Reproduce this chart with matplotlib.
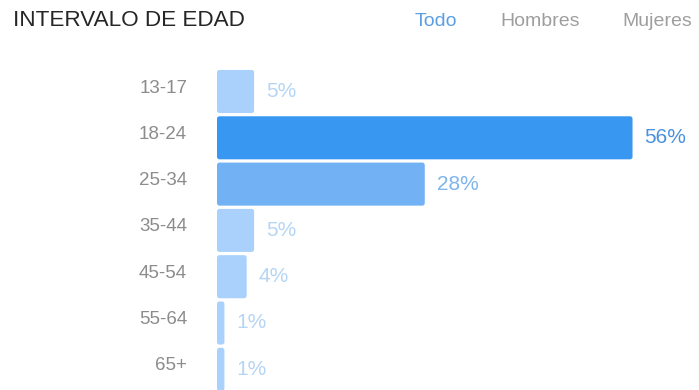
import matplotlib.pyplot as plt
from matplotlib.patches import FancyBboxPatch

plt.rcParams['font.family'] = ['Liberation Sans', 'DejaVu Sans']

# distribución por edad (%)
age_groups = ['13-17', '18-24', '25-34', '35-44', '45-54', '55-64', '65+']
shares = [5, 56, 28, 5, 4, 1, 1]
tabs = ['Todo', 'Hombres', 'Mujeres']

bar_colors = ['#a9d1fb', '#3897f0', '#72b1f4', '#a9d1fb', '#a9d1fb', '#a9d1fb', '#a9d1fb']
text_colors = ['#b5d5f5', '#4a92e0', '#7fb4ec', '#b5d5f5', '#b5d5f5', '#b5d5f5', '#b5d5f5']

W, H = 699, 390
fig = plt.figure(figsize=(W / 100, H / 100), dpi=100)
ax = fig.add_axes([0, 0, 1, 1])

# escala: 7.42 px por punto porcentual, 46.3 px por fila
px_x, px_y = 7.42, 46.3
x0, y0 = 217, 91.5
ax.set_xlim(-x0 / px_x, (W - x0) / px_x)
ax.set_ylim((H - y0) / px_y, -y0 / px_y)
ax.axis('off')

ypos = list(range(len(age_groups)))
bars = ax.barh(ypos, shares, height=0.93, color='none')

# barras con esquinas redondeadas
r = 2.5 / px_x
for b, c in zip(bars, bar_colors):
    p = FancyBboxPatch((b.get_x(), b.get_y()), b.get_width(), b.get_height(),
                       boxstyle=f'round,pad=0,rounding_size={r}',
                       mutation_aspect=px_x / px_y, facecolor=c, edgecolor='none')
    ax.add_patch(p)

for i, (g, v) in enumerate(zip(age_groups, shares)):
    ax.annotate(g, xy=(0, i), xytext=(-21.5, 2.5), textcoords='offset points',
                ha='right', va='center', fontsize=13.5, color='#8c8c8c')
    ax.annotate(f'{v}%', xy=(v, i), xytext=(8.5, 0), textcoords='offset points',
                ha='left', va='center', fontsize=15, color=text_colors[i])

fig.text(13 / W, 1 - 21 / H, 'INTERVALO DE EDAD', ha='left', va='center',
         fontsize=16.2, color='#262626')
tab_x = [415, 500, 622]
tab_c = ['#5b9fe2', '#9e9e9e', '#9e9e9e']
for t, x, c in zip(tabs, tab_x, tab_c):
    fig.text(x / W, 1 - 21 / H, t, ha='left', va='center', fontsize=14, color=c)

fig.savefig('out.png', dpi=100)
